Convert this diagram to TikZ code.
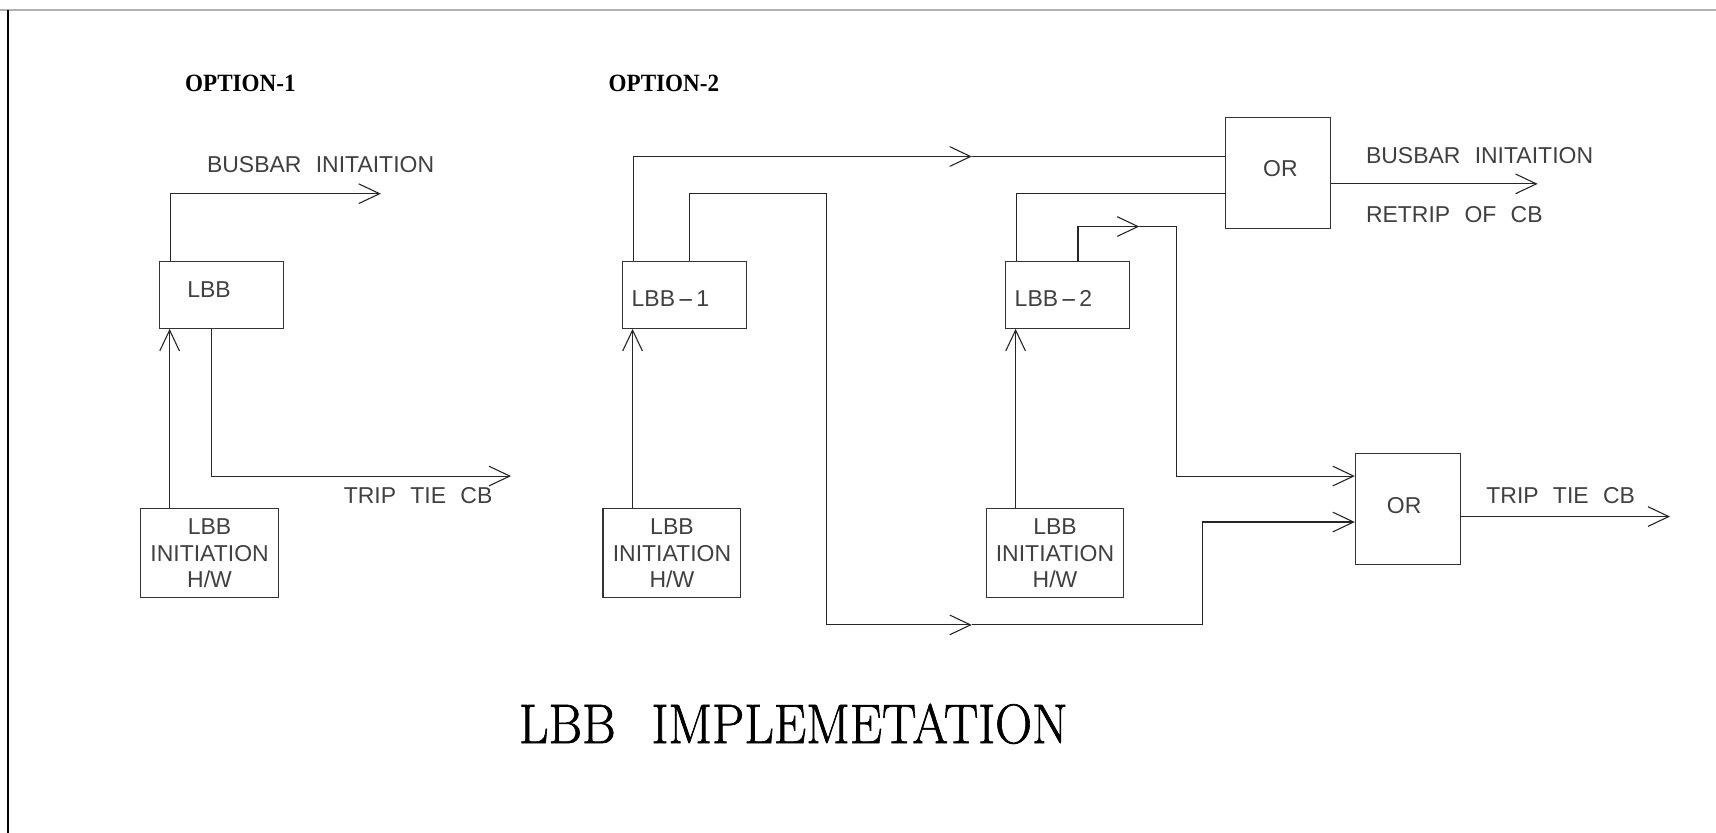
\documentclass[tikz,border=0pt]{standalone}
\usepackage{fontspec}
\newfontfamily\cadfont{Liberation Sans}
\newfontfamily\optfont{Liberation Serif}
\newfontfamily\titlefont[FakeBold=1.2]{Latin Modern Roman}
\usetikzlibrary{arrows.meta}
\newcommand{\wgap}{\hspace{0.62em}}
\newcommand{\wdash}{\kern2pt\scalebox{2.2}[1]{-}\kern2pt}
\begin{document}
\begin{tikzpicture}[x=1pt,y=-1pt,
  ln/.style={draw=black!85, line width=1pt},
  arr/.style={ln, -{Straight Barb[length=19pt,width=18pt]}},
  box/.style={draw=black!80, line width=1pt, inner sep=0pt, anchor=center},
  smallbox/.style={box, minimum width=113pt, minimum height=61pt},
  initbox/.style={box, minimum width=126pt, minimum height=81pt, align=center,
    font=\cadfont\fontsize{21}{24}\selectfont, text=black!75},
  orbox/.style={box, minimum width=96pt, minimum height=102pt},
  cad/.style={font=\cadfont\fontsize{21}{24}\selectfont, text=black!75, inner sep=0pt, anchor=base west},
  cadc/.style={cad, anchor=base},
  opt/.style={font=\optfont\bfseries\fontsize{22.7}{26}\selectfont, inner sep=0pt, anchor=base west}
]
\useasboundingbox (0,0) rectangle (1568,761);
% frame
\draw[gray!60, line width=2pt] (0,9) -- (1568,9);
\draw[black, line width=1.6pt] (7,9) -- (7,761);

% headings
\node[opt] (opt1) at (169,84) {\scalebox{0.93}[1]{OPTION-1}};
\node[opt] (opt2) at (556,84) {\scalebox{0.93}[1]{OPTION-2}};
\node[inner sep=0pt, anchor=base west] (title) at (474,679)
  {\titlefont\fontsize{51}{60}\selectfont\scalebox{0.92}[1]{LBB\hspace{0.70em}IMPLEMETATION}};

% ---------------- option 1 ----------------
\node[smallbox] (lbb) at (202.5,269.5) {};
\node[cad] (tlbb) at (171,272) {LBB};
\node[initbox] (init1) at (191.5,505.5) {LBB\\INITIATION\\H/W};

\coordinate (a1) at (155,0);
\draw[arr] (init1.north -| a1) -- (lbb.south -| a1);
\coordinate (b1) at (156,177);
\coordinate (b1e) at (348,177);
\draw[arr] (lbb.north -| b1) -- (b1) -- (b1e);
\coordinate (c1) at (193,435);
\coordinate (c1e) at (467,435);
\draw[arr] (lbb.south -| c1) -- (c1) -- (c1e);
\node[cad] (bus1) at (189,158) {BUSBAR\wgap INITAITION};
\node[cad] (trip1) at (314,460) {TRIP\wgap TIE\wgap CB};

% ---------------- option 2 ----------------
\node[smallbox] (lbb1) at (625.5,269.5) {};
\node[cad] (tlbb1) at (577,280) {LBB\wdash 1};
\node[initbox] (init2) at (614,505.5) {LBB\\INITIATION\\H/W};
\node[smallbox] (lbb2) at (975.5,269.5) {};
\node[cad] (tlbb2) at (927,280) {LBB\wdash 2};
\node[initbox] (init3) at (964,505.5) {LBB\\INITIATION\\H/W};
\node[orbox] (or1) at (1168,158) {};
\node[cadc] (tor1) at (1170,161) {OR};
\node[orbox] (or2) at (1286.5,465) {};
\node[cadc] (tor2) at (1283,469) {OR};

\coordinate (a2) at (578,0);
\draw[arr] (init2.north -| a2) -- (lbb1.south -| a2);
\coordinate (a3) at (928,0);
\draw[arr] (init3.north -| a3) -- (lbb2.south -| a3);

% LBB-1 -> OR1
\coordinate (d1) at (579,143);
\coordinate (d1m) at (888,143);
\draw[arr] (lbb1.north -| d1) -- (d1) -- (d1m);
\draw[ln] (d1m) -- (d1m -| or1.west);

% LBB-1 -> OR2
\coordinate (e1) at (630,177);
\coordinate (e2) at (755,177);
\coordinate (e3) at (755,571);
\coordinate (e4) at (888,571);
\coordinate (e5) at (1099,571);
\coordinate (e6) at (1099,477);
\draw[arr] (lbb1.north -| e1) -- (e1) -- (e2) -- (e3) -- (e4);
\draw[arr] (e4) -- (e5) -- (e6) -- (e6 -| or2.west);

% LBB-2 -> OR1
\coordinate (f1) at (929,177);
\draw[ln] (lbb2.north -| f1) -- (f1) -- (f1 -| or1.west);

% LBB-2 -> OR2
\coordinate (g1) at (985,207);
\coordinate (g2) at (1041,207);
\coordinate (g3) at (1075,207);
\coordinate (g4) at (1075,435);
\draw[arr] (lbb2.north -| g1) -- (g1) -- (g2);
\draw[arr] (g2) -- (g3) -- (g4) -- (g4 -| or2.west);

% outputs
\coordinate (h1) at (1405,168);
\draw[arr] (or1.east |- h1) -- (h1);
\coordinate (h2) at (1526,472);
\draw[arr] (or2.east |- h2) -- (h2);

\node[cad] (bus2) at (1248,149) {BUSBAR\wgap INITAITION};
\node[cad] (retrip) at (1248,203) {RETRIP\wgap OF\wgap CB};
\node[cad] (trip2) at (1358,460) {TRIP\wgap TIE\wgap CB};
\end{tikzpicture}
\end{document}
